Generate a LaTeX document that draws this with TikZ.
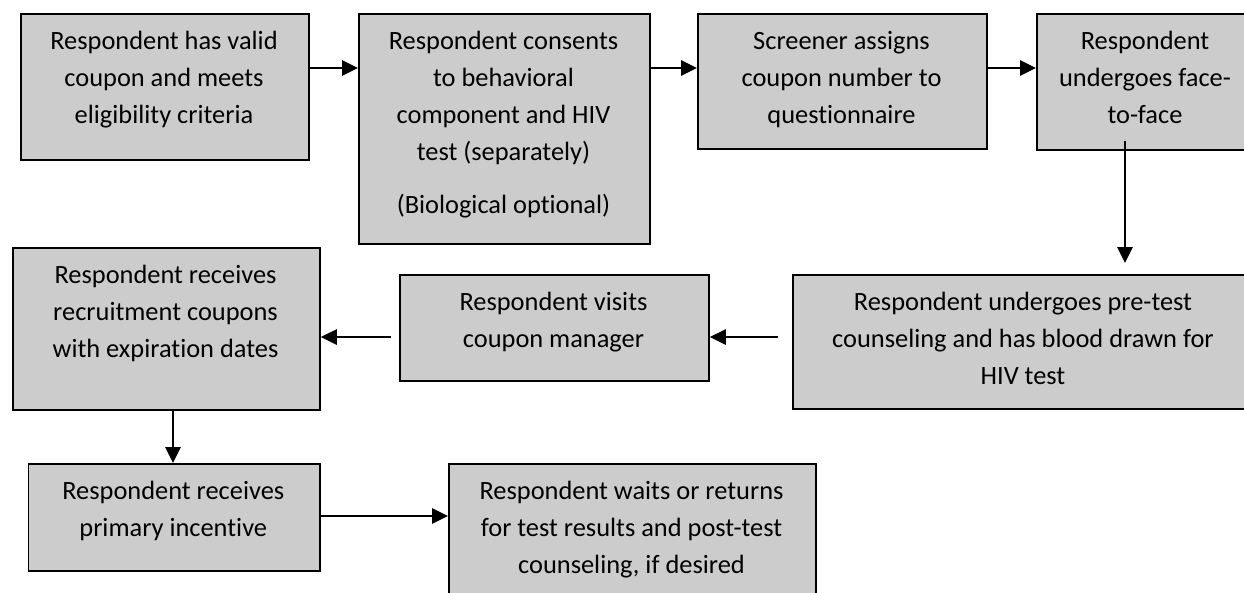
\documentclass[tikz,border=0pt]{standalone}
\usepackage{fontspec}
\setmainfont[Ligatures={NoCommon}]{Carlito}
\usetikzlibrary{arrows.meta,calc}
\definecolor{boxgray}{HTML}{CCCCCC}
\begin{document}
\begin{tikzpicture}[x=1pt,y=-1pt,
  box/.style={draw=black, fill=boxgray, line width=1.8pt, anchor=north west, inner sep=0pt},
  txt/.style={font=\fontsize{26.4}{37}\selectfont, align=center, anchor=north, inner sep=0pt},
  arr/.style={line width=2.8pt, -{Triangle[length=16pt,width=15pt]}}]
\useasboundingbox (0,0) rectangle (1244,592);
% boxes
\node[box, minimum width=288pt, minimum height=146pt] (b1) at (20,13) {};
\node[box, minimum width=291pt, minimum height=230pt] (b2) at (358,13) {};
\node[box, minimum width=289pt, minimum height=135pt] (b3) at (697,13) {};
\node[box, minimum width=218pt, minimum height=136pt] (b4) at (1036,13) {};
\node[box, minimum width=462pt, minimum height=134pt] (b5) at (792,274) {};
\node[box, minimum width=309pt, minimum height=106pt] (b6) at (399,274) {};
\node[box, minimum width=307pt, minimum height=162pt] (b7) at (12,247) {};
\node[box, minimum width=291.5pt, minimum height=107pt] (b8) at (27.5,463) {};
\node[box, minimum width=367pt, minimum height=130pt] (b9) at (448,463) {};
% texts
\node[txt] (t1) at (164,27) {\rule{0pt}{22pt}Respondent has valid\\coupon and meets\\eligibility criteria};
\node[txt] (t2) at (503.5,27) {\rule{0pt}{22pt}Respondent consents\\to behavioral\\component and HIV\\test (separately)\\[16pt](Biological optional)};
\node[txt] (t3) at (841.5,27) {\rule{0pt}{22pt}Screener assigns\\coupon number to\\questionnaire};
\node[txt] (t4) at (1145,27) {\rule{0pt}{22pt}Respondent\\undergoes face-\\to-face};
\node[txt] (t5) at (1023,288) {\rule{0pt}{22pt}Respondent undergoes pre-test\\counseling and has blood drawn for\\HIV test};
\node[txt] (t6) at (553.5,288) {\rule{0pt}{22pt}Respondent visits\\coupon manager};
\node[txt] (t7) at (165.5,261) {\rule{0pt}{22pt}Respondent receives\\recruitment coupons\\with expiration dates};
\node[txt] (t8) at (173.25,477) {\rule{0pt}{22pt}Respondent receives\\primary incentive};
\node[txt] (t9) at (631.5,477) {\rule{0pt}{22pt}Respondent waits or returns\\for test results and post-test\\counseling, if desired};
% connector levels
\coordinate (ra) at (0,68);
\coordinate (rb) at (0,337);
\coordinate (rc) at (0,516);
\coordinate (ca) at (1125,0);
\coordinate (cb) at (173,0);
% connectors
\draw[arr] (b1.east |- ra) -- (b2.west |- ra);
\draw[arr] (b2.east |- ra) -- (b3.west |- ra);
\draw[arr] (b3.east |- ra) -- (b4.west |- ra);
\draw[arr] ($(b4.south -| ca)+(0,-10)$) -- ($(b5.north -| ca)+(0,-11)$);
\draw[arr] ($(b5.west |- rb)+(-14,0)$) -- (b6.east |- rb);
\draw[arr] ($(b6.west |- rb)+(-8,0)$) -- (b7.east |- rb);
\draw[arr] (b7.south -| cb) -- (b8.north -| cb);
\draw[arr] (b8.east |- rc) -- (b9.west |- rc);
\end{tikzpicture}
\end{document}
